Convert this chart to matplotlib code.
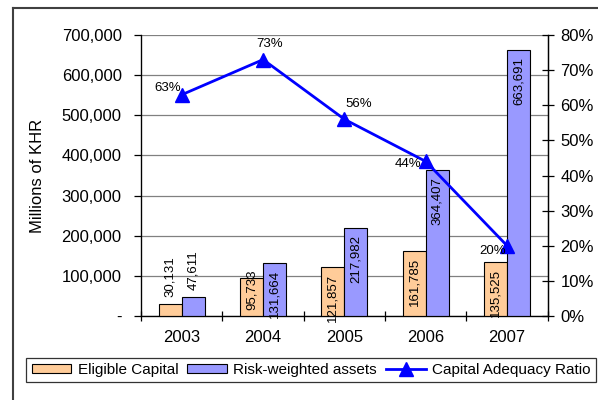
import matplotlib
matplotlib.use('Agg')
import matplotlib.pyplot as plt
from matplotlib.lines import Line2D
import numpy as np

plt.rcParams['font.family'] = ['Liberation Sans', 'DejaVu Sans']

years = ['2003', '2004', '2005', '2006', '2007']
eligible_capital = [30131, 95733, 121857, 161785, 135525]
risk_weighted = [47611, 131664, 217982, 364407, 663691]
car = [0.63, 0.73, 0.56, 0.44, 0.20]
car_labels = ['63%', '73%', '56%', '44%', '20%']

fig = plt.figure(figsize=(5.98, 4.0), dpi=100)
ax = fig.add_axes([0.236, 0.21, 0.680, 0.7025])
ax2 = ax.twinx()

x = np.arange(len(years))
w = 0.283
b1 = ax.bar(x - w / 2, eligible_capital, w, color='#FFCC99', edgecolor='black', linewidth=0.8, zorder=3)
b2 = ax.bar(x + w / 2, risk_weighted, w, color='#9999FF', edgecolor='black', linewidth=0.8, zorder=3)

# data labels on bars, rotated like the excel chart
for bars, vals in ((b1, eligible_capital), (b2, risk_weighted)):
    for rect, v in zip(bars, vals):
        cx = rect.get_x() + rect.get_width() / 2
        txt = f'{v:,}'
        if v < 60000:
            ax.annotate(txt, (cx, v), xytext=(0, 5), textcoords='offset points',
                        rotation=90, ha='center', va='bottom', fontsize=9.5, zorder=5)
        elif v < 100000:
            ax.annotate(txt, (cx, v), xytext=(0, 6), textcoords='offset points',
                        rotation=90, ha='center', va='top', fontsize=9.5, zorder=5)
        else:
            ax.annotate(txt, (cx, v), xytext=(0, -5), textcoords='offset points',
                        rotation=90, ha='center', va='top', fontsize=9.5, zorder=5)

ax.set_xlim(-0.5, len(years) - 0.5)
ax.set_ylim(0, 700000)
ax.set_yticks(np.arange(0, 700001, 100000))
ax.set_yticklabels(['-' if t == 0 else f'{int(t):,}' for t in np.arange(0, 700001, 100000)])
ax.yaxis.grid(True, color='#808080', linewidth=0.9, zorder=0)
ax.set_axisbelow(True)
ax.set_xticks(x)
ax.set_xticklabels(years)
ax.set_xticks(np.arange(-0.5, len(years)), minor=True)
ax.tick_params(axis='x', which='major', length=0, pad=10, labelsize=12)
ax.tick_params(axis='x', which='minor', direction='inout', length=7, width=0.9)
ax.tick_params(axis='y', direction='out', length=5, width=0.9, labelsize=12, pad=9)
ax.set_ylabel('Millions of KHR', fontsize=12, labelpad=12)
for s in ('left', 'bottom', 'right'):
    ax.spines[s].set_linewidth(0.9)
ax.spines['top'].set_visible(False)

ax2.plot(x, car, color='#0000FF', linewidth=2.0, marker='^', markersize=10, zorder=6)
ax2.set_ylim(0, 0.8)
ax2.set_yticks(np.arange(0, 0.81, 0.1))
ax2.set_yticklabels([f'{int(round(t * 100))}%' for t in np.arange(0, 0.81, 0.1)])
ax2.tick_params(axis='y', direction='inout', length=8, width=0.9, labelsize=12, pad=5)
ax2.spines['right'].set_linewidth(0.9)
ax2.spines['top'].set_visible(False)

offsets = [(-0.5, 5, 'right', 'center'), (5, 7, 'center', 'bottom'), (1, 7, 'left', 'bottom'),
           (-3, -2, 'right', 'center'), (-1, -4, 'right', 'center')]
for xi, v, lab, (dx, dy, ha, va) in zip(x, car, car_labels, offsets):
    ax2.annotate(lab, (xi, v), xytext=(dx, dy), textcoords='offset points',
                 ha=ha, va=va, fontsize=9.5, zorder=7)

handles = [plt.Rectangle((0, 0), 1, 1, facecolor='#FFCC99', edgecolor='black', linewidth=0.8),
           plt.Rectangle((0, 0), 1, 1, facecolor='#9999FF', edgecolor='black', linewidth=0.8),
           Line2D([], [], color='#0000FF', linewidth=2.0, marker='^', markersize=10)]
leg = fig.legend(handles, ['Eligible Capital', 'Risk-weighted assets', 'Capital Adequacy Ratio'],
                 loc='center', bbox_to_anchor=(0.52, 0.075), ncol=3, fontsize=11,
                 frameon=True, fancybox=False, edgecolor='black', handlelength=2.6,
                 handleheight=0.6, handletextpad=0.4, columnspacing=0.6, borderpad=0.35)
leg.get_frame().set_linewidth(0.9)

# outer chart frame (left and top edges visible)
fig.add_artist(Line2D([0.022, 0.022], [0, 0.98], transform=fig.transFigure, color='#404040', linewidth=1.5))
fig.add_artist(Line2D([0.022, 1.0], [0.98, 0.98], transform=fig.transFigure, color='#404040', linewidth=1.5))

fig.savefig('out.png', dpi=100)
